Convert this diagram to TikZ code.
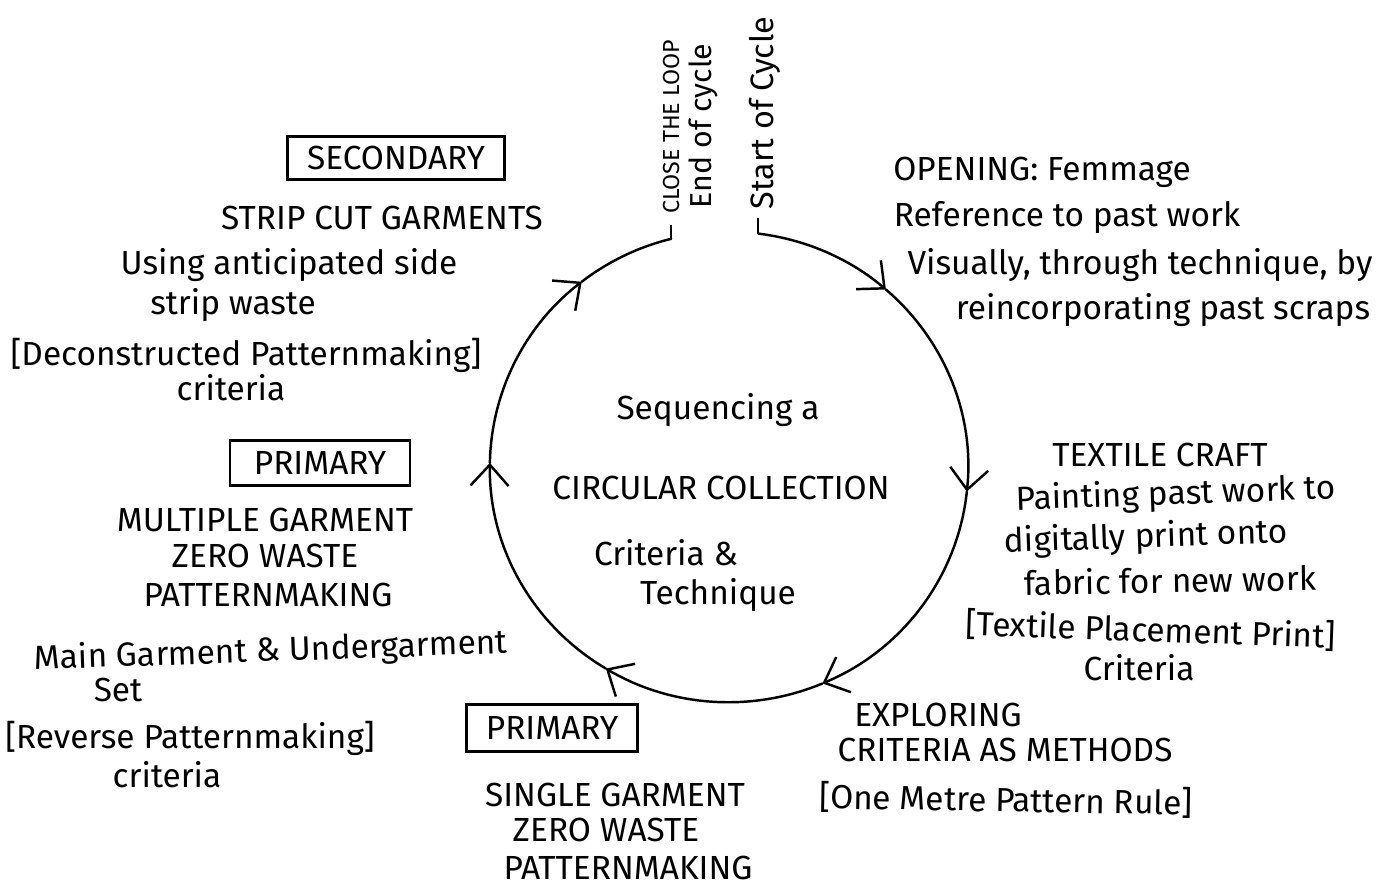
\documentclass[tikz,border=0pt]{standalone}
\usepackage{fontspec}
\setmainfont{Fira Sans}
\usepackage{tikz}
\usetikzlibrary{arrows.meta,calc}

\begin{document}
\begin{tikzpicture}[x=0.01cm, y=0.01cm,
    lbl/.style={font=\fontsize{9.5}{11}\selectfont, inner sep=0pt},
    stagebox/.style={draw, line width=0.7pt, font=\fontsize{9.5}{11}\selectfont, inner sep=2pt},
    flow/.style={line width=0.7pt, line cap=round, -{Straight Barb[length=2.1mm, width=3.8mm, line width=0.7pt]}}]
    \useasboundingbox (0,0) rectangle (1386,-886);

    % The ring, drawn clockwise from the start of the cycle
    \coordinate (c) at (729,-467);
    \coordinate (loopStart) at ($(c)+(83:2.39cm and 2.35cm)$);
    \coordinate (loopEnd) at ($(c)+(104:2.39cm and 2.35cm)$);
    \foreach \a/\b in {83/49, 49/-6, -6/-67, -67/-121, -121/-181, -181/-232}
        \draw[flow] ($(c)+(\a:2.39cm and 2.35cm)$) arc[start angle=\a, end angle=\b, x radius=2.39cm, y radius=2.35cm];
    \draw[line width=0.7pt, line cap=round] ($(c)+(-232:2.39cm and 2.35cm)$) arc[start angle=-232, end angle=-256, x radius=2.39cm, y radius=2.35cm];

    % Ticks at the gap
    \coordinate (startTick) at ($(loopStart)+(0,16)$);
    \coordinate (endTick) at ($(loopEnd)+(0,14)$);
    \draw[line width=0.7pt] (loopStart) -- (startTick);
    \draw[line width=0.7pt] (loopEnd) -- (endTick);
    \node[font=\fontsize{6.6}{7}\selectfont, rotate=90, inner sep=0pt] (closeLoop) at (671,-127) {CLOSE THE LOOP};
    \node[font=\fontsize{8.6}{9}\selectfont, rotate=90, inner sep=0pt] (endCycle) at (703,-126) {End of cycle};
    \node[font=\fontsize{9.2}{10}\selectfont, rotate=90, inner sep=0pt] (startCycle) at (765,-113) {Start of Cycle};

    % Centre
    \node[lbl] (ce1) at (718,-410) {Sequencing a};
    \node[lbl] (ce2) at (721,-488) {CIRCULAR COLLECTION};
    \node[lbl] (ce3) at (666,-553) {Criteria \&};
    \node[lbl] (ce4) at (718,-595) {Technique};

    % Opening
    \node[lbl] (op1) at (1042,-172) {OPENING: Femmage};
    \node[lbl] (op2) at (1067,-218) {Reference to past work};
    \node[lbl] (op3) at (1140,-265) {Visually, through technique, by};
    \node[lbl] (op4) at (1163,-310) {reincorporating past scraps};

    % Textile craft
    \node[lbl] (tx1) at (1160,-455) {TEXTILE CRAFT};
    \node[lbl, rotate=2] (tx2) at (1176,-495) {Painting past work to};
    \node[lbl, rotate=2] (tx3) at (1146,-538) {digitally print onto};
    \node[lbl, rotate=1] (tx4) at (1170,-580) {fabric for new work};
    \node[lbl, rotate=-2] (tx5) at (1151,-630) {[Textile Placement Print]};
    \node[lbl] (tx6) at (1139,-668) {Criteria};

    % Exploring criteria
    \node[lbl] (ex1) at (938,-715) {EXPLORING};
    \node[lbl] (ex2) at (1005,-750) {CRITERIA AS METHODS};
    \node[lbl, rotate=-1] (ex3) at (1006,-800) {[One Metre Pattern Rule]};

    % Primary: single garment
    \node[stagebox, minimum width=1.71cm, minimum height=0.47cm] (priB) at (552,-728) {PRIMARY};
    \node[lbl] (pb1) at (615,-795) {SINGLE GARMENT};
    \node[lbl] (pb2) at (606,-830) {ZERO WASTE};
    \node[lbl] (pb3) at (628,-868) {PATTERNMAKING};

    % Primary: multiple garment
    \node[stagebox, minimum width=1.8cm, minimum height=0.45cm] (priA) at (320,-463) {PRIMARY};
    \node[lbl] (pa1) at (265,-520) {MULTIPLE GARMENT};
    \node[lbl] (pa2) at (265,-556) {ZERO WASTE};
    \node[lbl] (pa3) at (268,-595) {PATTERNMAKING};
    \node[lbl, rotate=2] (pa4) at (271,-652) {Main Garment \& Undergarment};
    \node[lbl] (pa5) at (118,-690) {Set};
    \node[lbl] (pa6) at (190,-738) {[Reverse Patternmaking]};
    \node[lbl] (pa7) at (167,-775) {criteria};

    % Secondary: strip cut
    \node[stagebox, minimum width=2.17cm, minimum height=0.43cm] (secBox) at (396,-158) {SECONDARY};
    \node[lbl] (sc1) at (382,-218) {STRIP CUT GARMENTS};
    \node[lbl] (sc2) at (289,-265) {Using anticipated side};
    \node[lbl] (sc3) at (233,-305) {strip waste};
    \node[lbl] (sc4) at (246,-355) {[Deconstructed Patternmaking]};
    \node[lbl] (sc5) at (231,-388) {criteria};

\end{tikzpicture}
\end{document}
